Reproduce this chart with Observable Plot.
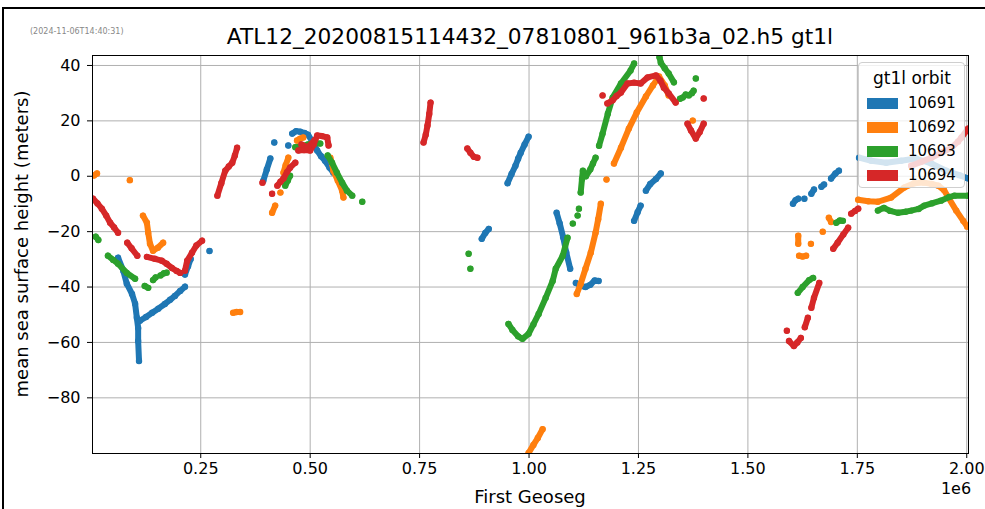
<!DOCTYPE html>
<html><head><meta charset="utf-8">
<script src="https://cdn.jsdelivr.net/npm/d3@7"></script>
<script src="https://cdn.jsdelivr.net/npm/@observablehq/plot@0.6"></script>
<style>
html,body{margin:0;padding:0;background:#fff;}
#wrap{position:relative;width:985px;height:509px;overflow:hidden;background:#fff;font-family:"DejaVu Sans",sans-serif;color:#000;}
#border{position:absolute;left:2px;top:7px;width:1100px;height:700px;border:2px solid #000;box-sizing:border-box;}
.t{position:absolute;white-space:nowrap;line-height:1;}
#legend{position:absolute;left:858px;top:62px;width:107px;height:126px;background:rgba(255,255,255,0.8);border:1px solid #cfcfcf;border-radius:4px;box-sizing:border-box;}
.sw{position:absolute;left:8px;width:31px;height:11px;}
.lb{position:absolute;left:49px;font-size:15px;line-height:1;white-space:nowrap;}
</style></head>
<body>
<div id="wrap">
  <div id="border"></div>
  <div id="chart" style="position:absolute;left:0;top:0;"></div>
  <div class="t" style="left:30px;top:32px;transform:translateY(-50%);font-size:8px;color:#888;">(2024-11-06T14:40:31)</div>
  <div class="t" style="left:530px;top:37px;transform:translate(-50%,-50%);font-size:21.7px;">ATL12_20200815114432_07810801_961b3a_02.h5 gt1l</div>
  <div class="t" style="left:22px;top:244px;transform:translate(-50%,-50%) rotate(-90deg);font-size:18px;">mean sea surface height (meters)</div>
  <div class="t" style="left:530px;top:497px;transform:translate(-50%,-50%);font-size:18px;">First Geoseg</div>
  <div class="t" style="left:956px;top:489px;transform:translate(-50%,-50%);font-size:16px;">1e6</div>
  <div id="legend"></div>
</div>
<script>
// x values in units of 1e6 (First Geoseg), y in meters; each series is a list of point runs
const orbits = ["10691", "10692", "10693", "10694"];
const colors = ["#1f77b4", "#ff7f0e", "#2ca02c", "#d62728"];
const xTicks = [0.25, 0.5, 0.75, 1.0, 1.25, 1.5, 1.75, 2.0];
const yTicks = [40, 20, 0, -20, -40, -60, -80];

const orbit10691 = [
  [[0.061,-29.4],[0.073,-34.1],[0.081,-38.8],[0.093,-42.5],[0.100,-46.0],[0.104,-51.1],[0.107,-54.8],[0.107,-59.5],[0.109,-66.7]],
  [[0.107,-52.5],[0.111,-52.2],[0.125,-50.8],[0.139,-49.3],[0.153,-47.8],[0.168,-46.1],[0.180,-44.6],[0.191,-43.2],[0.203,-41.4],[0.214,-39.9]],
  [[0.214,-35.5],[0.221,-32.5],[0.227,-29.9]],
  [[0.270,-27.0]],
  [[0.393,-1.6],[0.401,2.5],[0.409,6.4]],
  [[0.418,12.2]],
  [[0.450,11.1]],
  [[0.459,15.4],[0.468,16.3],[0.477,16.1],[0.487,15.6],[0.495,15.0],[0.505,12.5],[0.516,9.3],[0.525,7.2],[0.534,5.6],[0.544,3.2],[0.553,1.3]],
  [[0.892,-22.6],[0.900,-20.5],[0.908,-19.0]],
  [[0.951,-2.5],[0.960,0.8],[0.969,3.8],[0.975,6.3],[0.981,8.5],[0.990,11.5],[0.999,14.3]],
  [[1.063,-13.2],[1.070,-17.0],[1.078,-22.0],[1.085,-27.5],[1.094,-33.4]],
  [[1.107,-38.5],[1.118,-39.6],[1.129,-40.0],[1.140,-39.2],[1.150,-37.6],[1.159,-37.8]],
  [[1.240,-16.1],[1.248,-13.0],[1.255,-10.6]],
  [[1.267,-5.2],[1.277,-2.8],[1.290,-1.0],[1.301,1.0]],
  [[1.603,-9.9],[1.609,-8.6],[1.615,-8.1]],
  [[1.629,-8.1]],
  [[1.645,-6.3],[1.651,-4.8]],
  [[1.668,-3.8],[1.674,-3.0]],
  [[1.690,-0.8],[1.700,1.0],[1.708,2.0]],
  [[1.754,6.7],[1.782,5.6],[1.816,4.9],[1.850,5.6],[1.884,6.4],[1.919,4.6],[1.953,2.0],[1.983,0.4],[2.002,-0.7]]
];
const orbit10692 = [
  [[0.006,0.3],[0.013,1.0]],
  [[0.088,-1.4]],
  [[0.118,-14.2],[0.127,-16.8],[0.130,-20.4],[0.134,-24.4],[0.141,-26.9],[0.152,-25.8],[0.164,-24.0]],
  [[0.324,-49.3],[0.332,-49.0],[0.340,-49.0]],
  [[0.413,-13.2],[0.420,-10.6]],
  [[0.432,-5.9]],
  [[0.439,1.3],[0.444,4.0],[0.450,6.7]],
  [[0.470,12.9],[0.477,13.6],[0.484,14.0]],
  [[0.546,6.7],[0.550,4.5],[0.553,2.0],[0.563,-1.5],[0.573,-5.2],[0.576,-7.7]],
  [[0.999,-99.9],[1.010,-97.0],[1.020,-94.5],[1.031,-91.3]],
  [[1.109,-42.5],[1.118,-38.8],[1.129,-33.4],[1.141,-27.6],[1.152,-20.4],[1.158,-15.5],[1.164,-9.9]],
  [[1.177,-1.2]],
  [[1.194,4.6],[1.210,10.3],[1.228,17.2],[1.246,23.0],[1.267,28.8],[1.283,32.8],[1.297,36.0],[1.310,32.8],[1.319,29.2]],
  [[1.374,20.1]],
  [[1.615,-21.5],[1.615,-24.4]],
  [[1.617,-28.7],[1.625,-29.0],[1.633,-28.7]],
  [[1.644,-24.4]],
  [[1.671,-20.0]],
  [[1.685,-15.0],[1.690,-16.5]],
  [[1.752,-8.5],[1.775,-9.0],[1.797,-9.2],[1.827,-7.7],[1.857,-4.1],[1.880,-2.5],[1.903,-2.3],[1.920,-2.8],[1.935,-3.4],[1.948,-5.0],[1.958,-7.7],[1.976,-12.4],[1.992,-16.1],[2.001,-18.2]]
];
const orbit10693 = [
  [[0.010,-21.8],[0.016,-23.0]],
  [[0.038,-28.7],[0.050,-30.2],[0.061,-31.6],[0.081,-34.9],[0.100,-37.0]],
  [[0.122,-39.6],[0.130,-40.3]],
  [[0.141,-37.5],[0.147,-36.5]],
  [[0.158,-35.8],[0.166,-35.0],[0.172,-34.8]],
  [[0.443,-3.4],[0.449,-1.5],[0.454,0.2]],
  [[0.466,10.5],[0.480,10.8],[0.495,11.5],[0.510,12.0],[0.523,11.8]],
  [[0.540,7.5],[0.550,4.9],[0.561,1.3],[0.573,-2.3],[0.584,-5.2],[0.596,-7.0]],
  [[0.619,-9.2]],
  [[0.862,-28.0]],
  [[0.866,-33.4]],
  [[0.953,-53.3],[0.962,-55.5],[0.975,-57.8],[0.985,-58.7],[0.999,-56.9],[1.010,-53.5],[1.022,-49.7],[1.038,-43.9],[1.054,-37.8],[1.061,-33.4],[1.077,-28.7],[1.088,-22.2]],
  [[1.100,-17.1]],
  [[1.111,-14.2]],
  [[1.114,-11.7]],
  [[1.118,-5.9],[1.121,-1.0],[1.123,2.0]],
  [[1.130,0.0],[1.140,2.5],[1.146,4.6],[1.152,6.7]],
  [[1.160,11.0],[1.168,15.4],[1.180,22.6],[1.191,28.4],[1.210,33.5],[1.232,38.2],[1.240,40.7]],
  [[1.298,43.0],[1.301,41.0],[1.310,39.0],[1.319,37.1],[1.331,33.9]],
  [[1.345,28.0],[1.351,28.4],[1.358,29.5],[1.365,29.2],[1.372,30.0],[1.376,30.9]],
  [[1.381,35.3]],
  [[1.614,-42.1],[1.625,-40.0],[1.640,-37.5],[1.649,-36.7]],
  [[1.702,-16.8],[1.710,-16.0],[1.717,-16.1]],
  [[1.797,-12.4],[1.811,-11.4],[1.825,-12.5],[1.843,-13.2],[1.860,-12.8],[1.873,-12.4],[1.890,-11.8],[1.903,-10.6],[1.920,-9.8],[1.941,-8.8],[1.960,-7.5],[1.972,-7.0],[2.003,-7.0]]
];
const orbit10694 = [
  [[0.004,-8.1],[0.014,-9.8],[0.024,-11.7],[0.034,-14.2],[0.043,-16.8],[0.052,-18.5],[0.061,-20.4]],
  [[0.082,-24.0],[0.092,-26.0],[0.105,-28.7]],
  [[0.127,-29.1],[0.145,-29.8],[0.161,-30.5],[0.172,-31.6],[0.184,-33.1],[0.195,-34.2],[0.203,-34.9]],
  [[0.214,-34.1],[0.219,-30.5],[0.230,-27.6],[0.240,-25.0],[0.253,-23.3]],
  [[0.288,-7.0],[0.297,-2.5],[0.306,2.0],[0.314,3.5],[0.322,4.9],[0.328,7.5],[0.333,10.3]],
  [[0.391,-2.3]],
  [[0.413,-6.3]],
  [[0.425,-3.4],[0.432,-2.0],[0.439,-0.8],[0.447,1.5],[0.454,3.1],[0.466,4.9]],
  [[0.473,9.3],[0.486,9.5],[0.500,9.3],[0.508,11.5],[0.516,14.7],[0.527,14.5],[0.539,14.0],[0.542,11.1]],
  [[0.480,11.5],[0.495,10.5],[0.510,13.0]],
  [[0.759,12.2],[0.764,15.0],[0.768,18.3],[0.772,22.5],[0.775,26.6]],
  [[0.859,10.0],[0.866,8.5],[0.874,7.0],[0.882,6.7]],
  [[1.168,29.2]],
  [[1.179,26.3],[1.191,27.4],[1.200,29.0],[1.210,30.2],[1.225,33.5],[1.240,33.8],[1.255,33.5],[1.271,35.7],[1.290,36.4],[1.300,34.5],[1.308,32.0],[1.319,29.9],[1.335,26.6]],
  [[1.399,28.1]],
  [[1.362,19.0],[1.370,16.5],[1.381,13.6],[1.390,16.0],[1.399,19.0]],
  [[1.589,-55.8]],
  [[1.594,-59.5],[1.605,-61.3],[1.613,-60.0],[1.621,-58.4]],
  [[1.630,-54.5],[1.637,-51.1]],
  [[1.645,-47.5],[1.651,-43.9],[1.663,-38.5]],
  [[1.695,-26.2],[1.705,-24.0],[1.718,-21.0],[1.729,-18.6]],
  [[1.736,-13.5],[1.745,-12.5],[1.752,-11.7]],
  [[1.873,3.8],[1.896,5.2],[1.919,6.7],[1.942,8.5],[1.965,10.3],[1.980,12.5],[1.988,14.0],[2.003,17.2]]
];
const seriesData = [orbit10691, orbit10692, orbit10693, orbit10694];

const marks = [
  Plot.gridX(xTicks, {stroke: "#b0b0b0", strokeOpacity: 1, strokeWidth: 1}),
  Plot.gridY(yTicks, {stroke: "#b0b0b0", strokeOpacity: 1, strokeWidth: 1})
];
orbits.forEach((name, k) => {
  const rows = [];
  seriesData[k].forEach((run, i) => run.forEach(([x, y]) => rows.push({x, y, run: i})));
  marks.push(Plot.line(rows, {x: "x", y: "y", z: "run", stroke: colors[k], strokeWidth: 6, strokeLinecap: "round", strokeLinejoin: "round", clip: true}));
  marks.push(Plot.dot(rows, {x: "x", y: "y", fill: colors[k], r: 3.2, clip: true}));
});
marks.push(Plot.frame({stroke: "#000", strokeWidth: 1}));
marks.push(Plot.axisX(xTicks, {tickSize: 5, tickPadding: 4, tickFormat: d => d.toFixed(2), label: null, fontSize: 16}));
marks.push(Plot.axisY(yTicks, {tickSize: 5, tickPadding: 7, label: null, fontSize: 16}));

const chart = Plot.plot({
  width: 985, height: 509,
  marginLeft: 92, marginRight: 17, marginTop: 55, marginBottom: 56,
  style: {fontFamily: "DejaVu Sans", fontSize: "16px", color: "#000", background: "transparent"},
  x: {domain: [0.0027, 2.004]},
  y: {domain: [-100.1, 43.6]},
  marks
});
document.getElementById("chart").appendChild(chart);

const legend = document.getElementById("legend");
const lt = document.createElement("div");
lt.className = "t";
lt.style.cssText = "left:53px;top:15px;transform:translate(-50%,-50%);font-size:17px;";
lt.textContent = "gt1l orbit";
legend.appendChild(lt);
orbits.forEach((name, k) => {
  const cy = 41 + k * 24;
  const sw = document.createElement("div");
  sw.className = "sw";
  sw.style.top = (cy - 6) + "px";
  sw.style.background = colors[k];
  legend.appendChild(sw);
  const lb = document.createElement("div");
  lb.className = "lb";
  lb.style.top = (cy - 8) + "px";
  lb.textContent = name;
  legend.appendChild(lb);
});
</script>
</body></html>
